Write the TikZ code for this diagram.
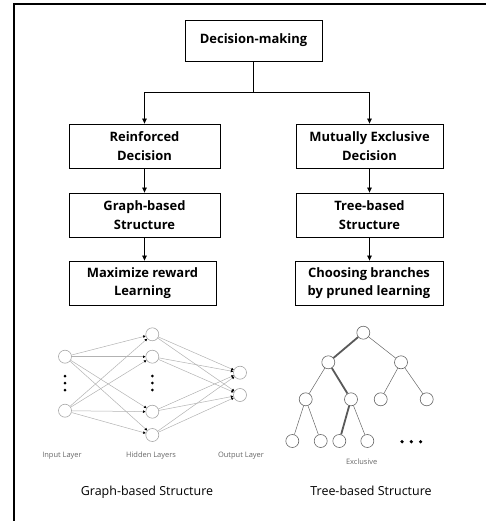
\documentclass[tikz,border=0pt]{standalone}
\usepackage{fontspec}
\setmainfont{Open Sans}
\usetikzlibrary{arrows.meta}
\begin{document}
\begin{tikzpicture}[x=1bp, y=-1bp,
    box/.style={rectangle, draw, line width=0.8bp, minimum width=151bp,
      minimum height=44bp, align=center, inner sep=1bp,
      font=\fontsize{13}{18.5}\selectfont\bfseries},
    arr/.style={-{Triangle[length=5bp,width=4.5bp]}, line width=0.7bp},
    neuron/.style={circle, draw=gray!70, line width=0.6bp, minimum size=13bp, inner sep=0pt},
    link/.style={draw=gray!60, line width=0.5bp, -{Triangle[length=2.5bp,width=2.5bp,color=black]}},
    leaf/.style={circle, draw=gray!80!black, line width=0.6bp, minimum size=13bp, inner sep=0pt},
    branch/.style={draw=gray!80!black, line width=0.5bp},
    chosen/.style={draw=gray!70!black, line width=1.8bp},
    lbl/.style={font=\fontsize{7.5}{9}\selectfont, text=gray!80!black},
    caption/.style={font=\fontsize{12.5}{14}\selectfont}
  ]
  \useasboundingbox (0,0) rectangle (486,521);
  % frame
  \draw[line width=1.6bp] (14,521) -- (14,4) -- (486,4);

  % flow chart
  \node[box, minimum width=137bp, minimum height=41bp] (dm) at (253.5,40.5) {Decision-making};
  \coordinate (split) at (253.5,92);
  \node[box] (rd) at (144.5,146) {Reinforced\\Decision};
  \node[box, minimum width=147bp] (me) at (369.5,146) {Mutually Exclusive\\Decision};
  \node[box] (gs) at (144.5,215) {Graph-based\\Structure};
  \node[box, minimum width=147bp] (ts) at (369.5,215) {Tree-based\\Structure};
  \node[box, minimum width=147bp] (mr) at (142.5,283) {Maximize reward\\Learning};
  \node[box, minimum width=148bp] (cb) at (369,283) {Choosing branches\\by pruned learning};
  \draw[line width=0.7bp] (dm) -- (split);
  \draw[arr] (split) -| (rd);
  \draw[arr] (split) -| (me);
  \draw[arr] (rd) -- (gs);
  \draw[arr] (me) -- (ts);
  \draw[arr] (gs) -- (gs |- mr.north);
  \draw[arr] (ts) -- (ts |- cb.north);

  % Graph-based structure
  \node[neuron] (i1) at (65,356.7) {};
  \node[neuron] (i2) at (65,410.7) {};
  \node[neuron] (h1) at (152.3,334.3) {};
  \node[neuron] (h2) at (152.3,356.7) {};
  \node[neuron] (h3) at (152.3,411.7) {};
  \node[neuron] (h4) at (152.3,435) {};
  \node[neuron] (o1) at (240,372.7) {};
  \node[neuron] (o2) at (240,395) {};
  \foreach \i in {1,2}
    \foreach \h in {1,...,4}
      \draw[link] (i\i) -- (h\h);
  \foreach \h in {1,...,4}
    \foreach \o in {1,2}
      \draw[link] (h\h) -- (o\o);
  \foreach \y in {376,383,390} {
    \fill (65,\y) circle (1.5bp);
    \fill (152.3,\y) circle (1.5bp);
  }
  \node[lbl] (il) at (62,456) {Input Layer};
  \node[lbl] (hl) at (151,456) {Hidden Layers};
  \node[lbl] (ol) at (241,456) {Output Layer};
  \node[caption] (gc) at (147,492) {Graph-based Structure};

  % Tree-based structure
  \node[leaf] (r) at (363.3,332.7) {};
  \node[leaf] (a1) at (328.3,362.3) {};
  \node[leaf] (a2) at (401,362.3) {};
  \node[leaf] (b1) at (305.7,399.3) {};
  \node[leaf] (b2) at (351,399.3) {};
  \node[leaf] (b3) at (380.7,399.3) {};
  \node[leaf] (b4) at (426.7,399.3) {};
  \node[leaf] (c1) at (292.3,441) {};
  \node[leaf] (c2) at (320.7,441) {};
  \node[leaf] (c3) at (339.3,441) {};
  \node[leaf] (c4) at (367.3,441) {};
  \draw[branch] (r) -- (a2);
  \draw[branch] (a1) -- (b1);
  \draw[branch] (a2) -- (b3);
  \draw[branch] (a2) -- (b4);
  \draw[branch] (b1) -- (c1);
  \draw[branch] (b1) -- (c2);
  \draw[branch] (b2) -- (c4);
  \draw[chosen] (r) -- (a1);
  \draw[chosen] (a1) -- (b2);
  \draw[chosen] (b2) -- (c3);
  \foreach \x in {402,411.3,420.6}
    \fill (\x,441.7) circle (1.8bp);
  \node[lbl] (ex) at (361.7,461.7) {Exclusive};
  \node[caption] (tc) at (371,491) {Tree-based Structure};
\end{tikzpicture}
\end{document}
